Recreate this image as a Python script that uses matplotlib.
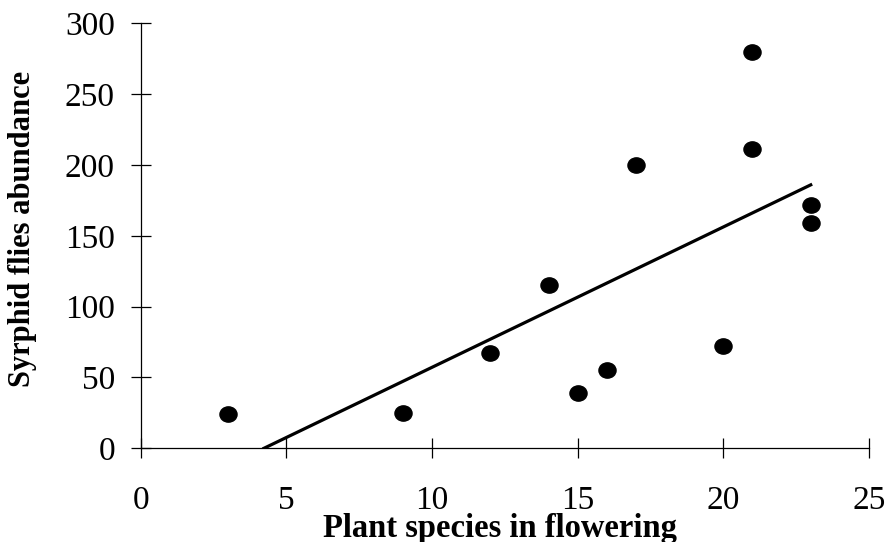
import numpy as np
import matplotlib.pyplot as plt
from matplotlib.markers import MarkerStyle
from matplotlib.transforms import Affine2D, Bbox, TransformedBbox

plt.rcParams['font.family'] = ['Liberation Serif', 'DejaVu Serif']

# plant species in flowering vs syrphid fly abundance
species = [3, 9, 12, 14, 15, 16, 17, 20, 21, 21, 23, 23]
abundance = [24, 25, 67, 115, 39, 55, 200, 72, 280, 211, 172, 159]

xticks = [0, 5, 10, 15, 20, 25]
yticks = [0, 50, 100, 150, 200, 250, 300]

fig = plt.figure(figsize=(8.88, 5.42), dpi=100)
ax = fig.add_axes([0.1584, 0.1729, 0.8202, 0.7841])

# slightly flattened dots like the original
dot = MarkerStyle('o', transform=Affine2D().scale(1.12, 1.0))
ax.plot(species, abundance, linestyle='none', marker=dot, color='black',
        markersize=11, zorder=3)

# linear trendline, starting where it crosses zero
slope, icept = np.polyfit(species, abundance, 1)
x0 = -icept / slope
xs = np.array([x0, max(species)])
ax.plot(xs, slope * xs + icept, color='black', lw=2.3)

ax.set_xlim(0, 25)
ax.set_ylim(0, 300)
ax.set_xticks(xticks)
ax.set_yticks(yticks)

for s in ['top', 'right']:
    ax.spines[s].set_visible(False)
for s in ['left', 'bottom']:
    ax.spines[s].set_linewidth(0.9)

ax.tick_params(direction='inout', length=15, width=0.9, labelsize=24)
ax.tick_params(axis='x', pad=19)
ax.tick_params(axis='y', pad=11)

ylab = fig.text(0.042, 0.286, 'Syrphid flies abundance', rotation=90,
                fontsize=22, fontweight='bold', ha='right', va='bottom')
# the original label box cuts off the last letter
ylab.set_clip_box(TransformedBbox(Bbox([[0, 0], [1, 1 - 72 / 542]]),
                                  fig.transFigure))
fig.text(0.563, 0.0092, 'Plant species in flowering', fontsize=23.5,
         fontweight='bold', ha='center', va='baseline')

fig.savefig('out.png', dpi=100)
